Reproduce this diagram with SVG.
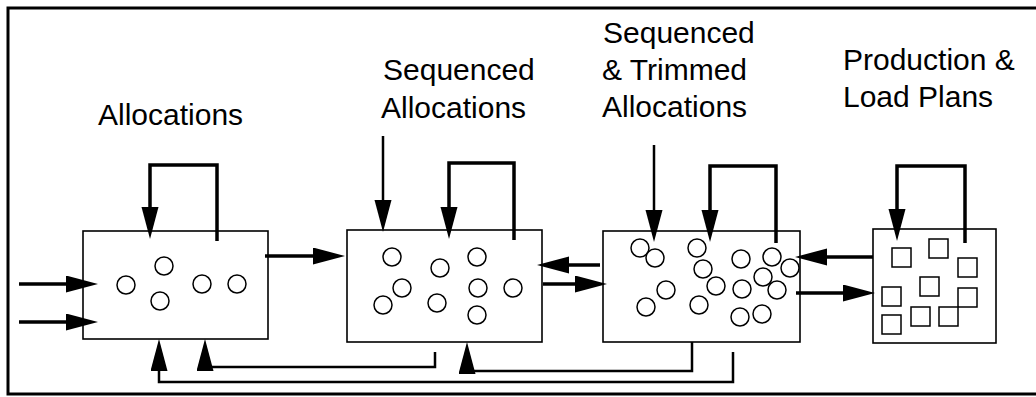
<svg xmlns="http://www.w3.org/2000/svg" width="1036" height="397" viewBox="0 0 1036 397">
<style>
.box{fill:#fff;stroke:#000;stroke-width:1.6}
.c{fill:#fff;stroke:#000;stroke-width:1.5}
.lbl{font-family:"Liberation Sans",Arial,sans-serif;font-size:30px;fill:#000}
.thick{fill:none;stroke:#000;stroke-width:3.5}
.med{fill:none;stroke:#000;stroke-width:2.5}
</style>
<defs>
<marker id="ah" markerUnits="userSpaceOnUse" markerWidth="34" markerHeight="18" refX="24" refY="8.5" orient="auto" viewBox="0 0 34 18">
<path d="M0,0 L32,8.5 L0,17 z" fill="#000"/>
</marker>
</defs>
<rect x="0" y="0" width="1036" height="397" fill="#fff"/>
<rect id="frame" x="8" y="8" width="1040" height="386" fill="none" stroke="#000" stroke-width="3"/>

<g id="label-allocations"><text class="lbl" x="98" y="125">Allocations</text></g>
<g id="label-sequenced"><text class="lbl" x="383" y="80">Sequenced</text><text class="lbl" x="381" y="118">Allocations</text></g>
<g id="label-trimmed"><text class="lbl" x="603" y="43">Sequenced</text><text class="lbl" x="602" y="80">&amp; Trimmed</text><text class="lbl" x="602" y="117">Allocations</text></g>
<g id="label-plans"><text class="lbl" x="843" y="70">Production &amp;</text><text class="lbl" x="843" y="107">Load Plans</text></g>

<g id="node-allocations">
<rect class="box" x="83" y="231" width="185" height="108"/>
<circle class="c" cx="126" cy="285" r="9"/>
<circle class="c" cx="164" cy="266" r="9"/>
<circle class="c" cx="160" cy="301" r="9"/>
<circle class="c" cx="202" cy="284" r="9"/>
<circle class="c" cx="237" cy="284" r="9"/>
</g>
<g id="node-sequenced">
<rect class="box" x="347" y="230" width="195" height="112"/>
<circle class="c" cx="392" cy="257" r="9"/>
<circle class="c" cx="440" cy="268" r="9"/>
<circle class="c" cx="477" cy="257" r="9"/>
<circle class="c" cx="402" cy="288" r="9"/>
<circle class="c" cx="478" cy="288" r="9"/>
<circle class="c" cx="513" cy="288" r="9"/>
<circle class="c" cx="383" cy="305" r="9"/>
<circle class="c" cx="437" cy="303" r="9"/>
<circle class="c" cx="477" cy="315" r="9"/>
</g>
<g id="node-trimmed">
<rect class="box" x="603" y="231" width="197" height="111"/>
<circle class="c" cx="640" cy="248" r="9"/>
<circle class="c" cx="655" cy="258" r="9"/>
<circle class="c" cx="697" cy="248" r="9"/>
<circle class="c" cx="703" cy="269" r="9"/>
<circle class="c" cx="716" cy="286" r="9"/>
<circle class="c" cx="741" cy="259" r="9"/>
<circle class="c" cx="772" cy="257" r="9"/>
<circle class="c" cx="790" cy="268" r="9"/>
<circle class="c" cx="763" cy="277" r="9"/>
<circle class="c" cx="777" cy="290" r="9"/>
<circle class="c" cx="742" cy="289" r="9"/>
<circle class="c" cx="666" cy="290" r="9"/>
<circle class="c" cx="646" cy="307" r="9"/>
<circle class="c" cx="699" cy="305" r="9"/>
<circle class="c" cx="740" cy="317" r="9"/>
<circle class="c" cx="762" cy="314" r="9"/>
</g>
<g id="node-plans">
<rect class="box" x="873" y="229" width="123" height="114"/>
<rect class="c" x="892" y="248" width="19" height="19"/>
<rect class="c" x="929" y="239" width="19" height="19"/>
<rect class="c" x="958" y="258" width="19" height="19"/>
<rect class="c" x="920" y="277" width="19" height="19"/>
<rect class="c" x="882" y="287" width="19" height="19"/>
<rect class="c" x="958" y="288" width="19" height="19"/>
<rect class="c" x="911" y="307" width="19" height="19"/>
<rect class="c" x="939" y="307" width="19" height="19"/>
<rect class="c" x="882" y="315" width="19" height="19"/>
</g>

<g id="connectors" marker-end="url(#ah)">
<path class="thick" d="M217,241 V165 H150 V231" marker-end="url(#ah)"/>
<path class="thick" d="M514,240 V163 H449 V231" marker-end="url(#ah)"/>
<path class="thick" d="M776,243 V166 H710 V234" marker-end="url(#ah)"/>
<path class="thick" d="M965,243 V166 H897 V233" marker-end="url(#ah)"/>
<path class="med" d="M383,136 V224" marker-end="url(#ah)"/>
<path class="med" d="M654,145 V234" marker-end="url(#ah)"/>
<path class="thick" d="M19,284 H90" marker-end="url(#ah)"/>
<path class="thick" d="M19,322 H90" marker-end="url(#ah)"/>
<path class="thick" d="M265,256 H337" marker-end="url(#ah)"/>
<path class="thick" d="M600,265 H545" marker-end="url(#ah)"/>
<path class="thick" d="M543,284 H599" marker-end="url(#ah)"/>
<path class="thick" d="M873,257 H803" marker-end="url(#ah)"/>
<path class="thick" d="M796,293 H867" marker-end="url(#ah)"/>
<path class="med" d="M435,352 V367 H205 V347" marker-end="url(#ah)"/>
<path class="med" d="M733,352 V382 H159 V347" marker-end="url(#ah)"/>
<path class="med" d="M692,342 V371 H467 V350" marker-end="url(#ah)"/>
</g>
</svg>
